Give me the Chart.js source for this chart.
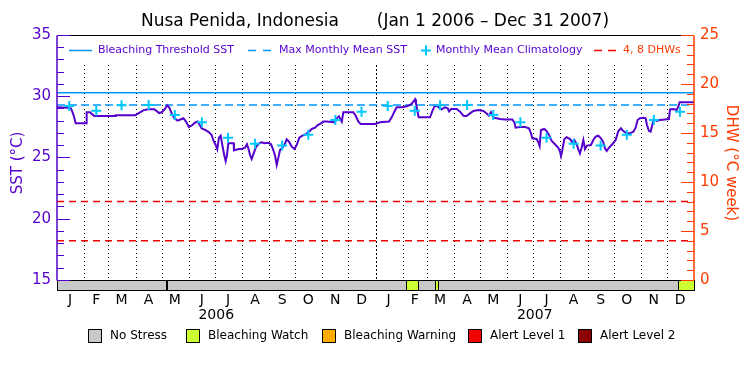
<!DOCTYPE html>
<html>
<head>
<meta charset="utf-8">
<script src="https://cdn.jsdelivr.net/npm/chart.js@4.4.0/dist/chart.umd.min.js"></script>
<style>
    html, body { margin: 0; background: #fff; }
</style>
</head>
<body>
<canvas id="sstChart" width="750" height="375"></canvas>
<script>
// days since Jan 1 2006 and daily SST (°C)
const sstDays = [0, 12, 16, 17.6, 19.5, 21.4, 34, 34, 37.8, 40.5, 42.8, 66.5, 67.2, 89.4, 91.3, 95.1, 98.9, 104.7, 111.5, 114.2,
    116.9, 120, 123, 126.4, 128.7, 131.4, 134.5, 138.3, 142.1, 144.8, 147.5, 151.3, 155.1, 158.1, 161.2, 163.1, 165.8, 170.4,
    174.2, 177.2, 179.5, 181.8, 183.7, 185.6, 187.6, 189.8, 191.8, 193.3, 194.8, 196.3, 202.5, 202.8, 207, 212.4, 215.5, 217.7,
    219.3, 221.2, 223.1, 225.4, 228.1, 231.5, 234.5, 237.6, 242.2, 245.3, 247.9, 249.9, 251.8, 253.7, 255.6, 258.3, 260.6,
    263.2, 265.9, 269, 272, 274.7, 277.7, 281.2, 285, 288.8, 291.9, 295.7, 298.8, 302.6, 305.2, 309.1, 318.6, 320.5, 323.2,
    326.3, 328.2, 339.6, 342.3, 345.4, 348, 364.5, 370.2, 380.5, 383.6, 386.6, 389.3, 395.8, 400.8, 405.7, 408.4, 410.3, 411.4,
    413, 414.5, 427.5, 430.2, 432.5, 435.1, 437.8, 440.9, 444.7, 447.7, 449.3, 451.6, 458, 461.9, 465.7, 469.5, 473.3, 477.2,
    482.9, 488.6, 492.4, 495, 497.3, 500, 503.8, 507.7, 513.4, 521.8, 524.1, 525.6, 530.6, 536.3, 540.9, 543.2, 544.7, 549.7,
    551.6, 553.1, 554.6, 558.5, 561.1, 563.8, 566.9, 570.7, 574.5, 576.4, 577.6, 579.1, 581.4, 584.1, 587.9, 590.5, 592.8,
    595.5, 597.4, 599.3, 601.2, 603.2, 605.1, 607.4, 611.9, 614.6, 617.3, 620.3, 623.4, 626.1, 628, 629.9, 632.6, 636.4,
    640.2, 643.3, 646.3, 649, 652.8, 656.6, 660.5, 663.1, 665.4, 668.1, 671.9, 674.6, 676.1, 678.4, 680.3, 682.2, 684.1,
    687.2, 691, 696.7, 701.3, 702.5, 706.3, 710.1, 712, 713.5, 730];
const sstValues = [29.10, 29.07, 29.01, 28.74, 28.33, 27.79, 27.79, 28.69, 28.69, 28.52, 28.39, 28.39, 28.44, 28.44, 28.52, 28.69,
    28.85, 28.93, 28.93, 28.80, 28.63, 28.69, 28.90, 29.26, 29.07, 28.60, 28.20, 28.01, 28.12, 28.20, 27.98, 27.49, 27.65,
    27.84, 27.93, 27.71, 27.38, 27.24, 27.05, 26.84, 26.35, 26.02, 25.67, 26.62, 26.78, 25.88, 25.15, 24.71, 25.20, 26.16,
    26.16, 25.58, 25.67, 25.72, 25.80, 26.08, 25.75, 25.20, 24.88, 25.34, 25.86, 26.16, 26.24, 26.16, 26.21, 26.08, 25.61,
    25.15, 24.39, 24.99, 25.61, 25.80, 26.02, 26.48, 26.29, 25.88, 25.69, 26.02, 26.62, 26.78, 26.89, 27.11, 27.33, 27.44,
    27.65, 27.79, 27.93, 27.93, 27.87, 28.20, 28.36, 27.93, 28.69, 28.69, 28.41, 27.93, 27.74, 27.74, 27.87, 27.93, 28.28,
    28.74, 29.10, 29.10, 29.18, 29.34, 29.56, 29.75, 29.42, 28.80, 28.28, 28.28, 28.80, 29.15, 29.23, 29.07, 28.93, 29.10,
    29.01, 28.77, 28.96, 28.96, 28.74, 28.41, 28.39, 28.60, 28.80, 28.88, 28.80, 28.60, 28.41, 28.69, 28.25, 28.20, 28.14,
    28.11, 28.11, 27.87, 27.43, 27.49, 27.49, 27.38, 26.97, 26.57, 26.51, 26.24, 25.94, 27.24, 27.33, 27.16, 26.84, 26.35,
    26.08, 25.80, 25.48, 25.12, 25.61, 26.51, 26.65, 26.51, 26.24, 26.43, 26.08, 25.69, 25.34, 25.80, 26.43, 25.69, 25.97,
    26.02, 26.43, 26.70, 26.78, 26.57, 26.24, 25.75, 25.53, 25.80, 26.08, 26.43, 27.16, 27.38, 27.16, 26.97, 26.97, 27.11,
    27.43, 28.06, 28.20, 28.25, 28.20, 27.65, 27.16, 27.11, 27.65, 28.14, 27.98, 28.06, 28.11, 28.14, 28.93, 28.96, 28.88,
    29.15, 29.50, 29.50];

// monthly mean climatology (+ markers)
const climDays = [14, 45, 74, 105, 135, 166, 196, 227, 258, 288, 319, 349,
    379, 410, 439, 470, 500, 531, 561, 592, 623, 653, 684, 714];
const climValues = [29.20, 28.82, 29.26, 29.29, 28.47, 27.87, 26.62, 26.13, 25.97, 26.86, 28.06, 28.74,
    29.20, 28.82, 29.26, 29.29, 28.47, 27.87, 26.62, 26.13, 25.97, 26.86, 28.06, 28.74];

const mmmSst = 29.28;
const thresholdSst = 30.28;
const dhwLevels = [4, 8];

// x axis labels
const monthMids = [15, 45, 74, 105, 135, 166, 196, 227, 258, 288, 319, 349,
    380, 410, 439, 470, 500, 531, 561, 592, 623, 653, 684, 714];
const monthLabels = ['J', 'F', 'M', 'A', 'M', 'J', 'J', 'A', 'S', 'O', 'N', 'D',
    'J', 'F', 'M', 'A', 'M', 'J', 'J', 'A', 'S', 'O', 'N', 'D'];
const monthStarts = [31, 59, 90, 120, 151, 181, 212, 243, 273, 304, 334, 365,
    396, 424, 455, 485, 516, 546, 577, 608, 638, 669, 699];
const yearMids = [182.5, 547.5];
const yearLabels = ['2006', '2007'];

// left and right axis ticks
const sstTicks = [15, 16, 17, 18, 19, 20, 21, 22, 23, 24, 25, 26, 27, 28, 29, 30, 31, 32, 33, 34, 35];
const dhwTicks = [0, 1, 2, 3, 4, 5, 6, 7, 8, 9, 10, 11, 12, 13, 14, 15, 16, 17, 18, 19, 20, 21, 22, 23, 24, 25];

// stress level bar (0 = no stress, 1 = bleaching watch)
const stressStart = [0, 126, 400, 414, 433, 437, 712];
const stressEnd = [126, 400, 414, 433, 437, 712, 730];
const stressLevel = [0, 0, 1, 0, 1, 0, 1];
const stressNames = ['No Stress', 'Bleaching Watch', 'Bleaching Warning', 'Alert Level 1', 'Alert Level 2'];
const stressColors = ['#c8c8c8', '#ccff33', '#ffaa00', '#ee0000', '#8b0000'];

const PURPLE = '#5500cc';
const BLUE = '#0096ff';
const CYAN = '#00c8ff';
const ORANGE = '#ff3c00';
const RED = '#ee0000';
const FONT = 'DejaVu Sans';

const flatLine = (y) => [{ x: 0, y: y }, { x: 730, y: y }];

const decorations = {
    id: 'decorations',
    beforeDatasetsDraw(chart) {
        const { ctx, scales } = chart;
        const xs = scales.x;
        const ys = scales.y;
        ctx.save();
        ctx.strokeStyle = '#000';
        ctx.lineWidth = 1;
        monthStarts.forEach((d) => {
            const x = Math.round(xs.getPixelForValue(d)) + 0.5;
            ctx.setLineDash(d === 365 ? [2, 2] : [1, 3]);
            ctx.beginPath();
            ctx.moveTo(x, ys.getPixelForValue(32.55));
            ctx.lineTo(x, ys.getPixelForValue(15));
            ctx.stroke();
        });
        ctx.restore();
    },
    afterDatasetsDraw(chart) {
        const { ctx, chartArea, scales } = chart;
        const xs = scales.x;
        const ys = scales.y;
        const y2 = scales.y2;
        const left = chartArea.left;
        const right = chartArea.right;
        const top = Math.round(chartArea.top) + 0.5;
        const base = Math.round(ys.getPixelForValue(15)) + 0.5;
        const bottom = Math.round(chartArea.bottom) - 0.5;

        ctx.save();
        // stress bar
        for (let i = 0; i < stressStart.length; i++) {
            const x0 = Math.round(xs.getPixelForValue(stressStart[i])) + 0.5;
            const x1 = Math.round(xs.getPixelForValue(stressEnd[i])) + 0.5;
            ctx.fillStyle = stressColors[stressLevel[i]];
            ctx.fillRect(x0, base, x1 - x0, bottom - base);
            ctx.strokeStyle = '#000';
            ctx.lineWidth = 1;
            ctx.strokeRect(x0, base, x1 - x0, bottom - base);
        }
        ctx.lineWidth = 2;
        ctx.beginPath();
        const gx = Math.round(xs.getPixelForValue(stressStart[1]));
        ctx.moveTo(gx, base);
        ctx.lineTo(gx, bottom);
        ctx.stroke();

        // frame
        ctx.lineWidth = 1;
        ctx.strokeStyle = '#000';
        ctx.beginPath();
        ctx.moveTo(left, top);
        ctx.lineTo(right, top);
        ctx.stroke();

        ctx.strokeStyle = PURPLE;
        ctx.lineWidth = 1.5;
        ctx.beginPath();
        ctx.moveTo(left, top);
        ctx.lineTo(left, base);
        ctx.stroke();
        ctx.lineWidth = 1;
        sstTicks.forEach((v) => {
            const y = Math.round(ys.getPixelForValue(v)) + 0.5;
            ctx.beginPath();
            ctx.moveTo(left, y);
            ctx.lineTo(left + (v % 5 === 0 ? 13 : 7), y);
            ctx.stroke();
        });

        ctx.strokeStyle = ORANGE;
        ctx.lineWidth = 1.5;
        ctx.beginPath();
        ctx.moveTo(right, top);
        ctx.lineTo(right, base);
        ctx.stroke();
        ctx.lineWidth = 1;
        dhwTicks.forEach((v) => {
            const y = Math.round(y2.getPixelForValue(v)) + 0.5;
            ctx.beginPath();
            ctx.moveTo(right, y);
            ctx.lineTo(right - (v % 5 === 0 ? 13 : 7), y);
            ctx.stroke();
        });

        // legend inside the plot
        const ly = 50.5;
        ctx.font = '11px "' + FONT + '"';
        ctx.textBaseline = 'middle';
        ctx.textAlign = 'left';
        ctx.lineWidth = 1.5;

        ctx.strokeStyle = BLUE;
        ctx.beginPath();
        ctx.moveTo(69, ly);
        ctx.lineTo(92, ly);
        ctx.stroke();
        ctx.fillStyle = PURPLE;
        ctx.fillText('Bleaching Threshold SST', 98, ly);

        ctx.setLineDash([8, 7]);
        ctx.beginPath();
        ctx.moveTo(248, ly);
        ctx.lineTo(272, ly);
        ctx.stroke();
        ctx.fillText('Max Monthly Mean SST', 279, ly);

        ctx.setLineDash([]);
        ctx.strokeStyle = CYAN;
        ctx.lineWidth = 2;
        ctx.beginPath();
        ctx.moveTo(421, ly);
        ctx.lineTo(431, ly);
        ctx.moveTo(426, ly - 5);
        ctx.lineTo(426, ly + 5);
        ctx.stroke();
        ctx.fillText('Monthly Mean Climatology', 436, ly);

        ctx.lineWidth = 1.5;
        ctx.strokeStyle = RED;
        ctx.setLineDash([8, 6]);
        ctx.beginPath();
        ctx.moveTo(594, ly);
        ctx.lineTo(616, ly);
        ctx.stroke();
        ctx.setLineDash([]);
        ctx.fillStyle = ORANGE;
        ctx.fillText('4, 8 DHWs', 623, ly);

        // stress legend under the chart
        const boxX = [88, 186, 322, 468, 578];
        ctx.font = '12px "' + FONT + '"';
        ctx.lineWidth = 1;
        ctx.strokeStyle = '#000';
        stressNames.forEach((name, i) => {
            ctx.fillStyle = stressColors[i];
            ctx.fillRect(boxX[i] + 0.5, 329.5, 13, 13);
            ctx.strokeRect(boxX[i] + 0.5, 329.5, 13, 13);
            ctx.fillStyle = '#000';
            ctx.fillText(name, boxX[i] + 22, 336);
        });
        ctx.restore();
    },
};

const ctx = document.getElementById('sstChart').getContext('2d');

new Chart(ctx, {
    type: 'line',
    data: {
        datasets: [
            {
                label: 'Monthly Mean Climatology',
                data: climDays.map((d, i) => ({ x: d, y: climValues[i] })),
                showLine: false,
                pointStyle: 'cross',
                pointRadius: 5,
                pointBorderWidth: 2,
                borderColor: CYAN,
                backgroundColor: CYAN,
                yAxisID: 'y',
            },
            {
                label: 'SST',
                data: sstDays.map((d, i) => ({ x: d, y: sstValues[i] })),
                borderColor: PURPLE,
                borderWidth: 2,
                pointRadius: 0,
                tension: 0,
                yAxisID: 'y',
            },
            {
                label: 'Bleaching Threshold SST',
                data: flatLine(thresholdSst),
                borderColor: BLUE,
                borderWidth: 1.5,
                pointRadius: 0,
                yAxisID: 'y',
            },
            {
                label: 'Max Monthly Mean SST',
                data: flatLine(mmmSst),
                borderColor: BLUE,
                borderWidth: 1.5,
                borderDash: [8, 4],
                pointRadius: 0,
                yAxisID: 'y',
            },
            ...dhwLevels.map((v) => ({
                label: v + ' DHW',
                data: flatLine(v),
                borderColor: RED,
                borderWidth: 1.5,
                borderDash: [7, 5],
                pointRadius: 0,
                yAxisID: 'y2',
            })),
        ],
    },
    options: {
        responsive: false,
        animation: false,
        events: [],
        layout: {
            padding: { top: 0, left: 0, right: 0, bottom: 52 },
        },
        plugins: {
            legend: { display: false },
            tooltip: { enabled: false },
            title: {
                display: true,
                text: 'Nusa Penida, Indonesia       (Jan 1 2006 \u2013 Dec 31 2007)',
                color: '#000',
                font: { family: FONT, size: 17, weight: 'normal' },
                padding: { top: 11, bottom: 3.6 },
            },
        },
        scales: {
            x: {
                type: 'linear',
                position: 'bottom',
                weight: 1,
                min: 0,
                max: 730,
                grid: { display: false, drawTicks: false },
                border: { display: false },
                afterBuildTicks: (scale) => {
                    scale.ticks = monthMids.map((v) => ({ value: v }));
                },
                afterFit: (scale) => {
                    scale.height = 16;
                },
                ticks: {
                    autoSkip: false,
                    maxRotation: 0,
                    padding: 1,
                    color: '#000',
                    font: { family: FONT, size: 14 },
                    callback: (value, index) => monthLabels[index],
                },
            },
            xYear: {
                type: 'linear',
                position: 'bottom',
                weight: 2,
                min: 0,
                max: 730,
                grid: { display: false, drawTicks: false },
                border: { display: false },
                afterBuildTicks: (scale) => {
                    scale.ticks = yearMids.map((v) => ({ value: v }));
                },
                afterFit: (scale) => {
                    scale.height = 16;
                },
                ticks: {
                    autoSkip: false,
                    maxRotation: 0,
                    padding: 0,
                    color: '#000',
                    font: { family: FONT, size: 14 },
                    callback: (value, index) => yearLabels[index],
                },
            },
            y: {
                type: 'linear',
                position: 'left',
                min: 14.102,
                max: 35,
                grid: { display: false, drawTicks: false },
                border: { display: false },
                afterBuildTicks: (scale) => {
                    scale.ticks = sstTicks.map((v) => ({ value: v }));
                },
                afterFit: (scale) => {
                    scale.width = 57;
                },
                ticks: {
                    autoSkip: false,
                    padding: 6,
                    color: PURPLE,
                    font: { family: FONT, size: 15 },
                    callback: (v) => (v % 5 === 0 ? String(v) : ''),
                },
                title: {
                    display: true,
                    text: 'SST (°C)',
                    color: PURPLE,
                    font: { family: FONT, size: 15 },
                    padding: { top: 9, bottom: 0 },
                },
            },
            y2: {
                type: 'linear',
                position: 'right',
                min: -1.1224,
                max: 25,
                grid: { display: false, drawTicks: false },
                border: { display: false },
                afterBuildTicks: (scale) => {
                    scale.ticks = dhwTicks.map((v) => ({ value: v }));
                },
                afterFit: (scale) => {
                    scale.width = 56;
                },
                ticks: {
                    autoSkip: false,
                    padding: 6,
                    color: ORANGE,
                    font: { family: FONT, size: 15 },
                    callback: (v) => (v % 5 === 0 ? String(v) : ''),
                },
                title: {
                    display: true,
                    text: 'DHW (°C week)',
                    color: ORANGE,
                    font: { family: FONT, size: 15 },
                    padding: { top: 10, bottom: 0 },
                },
            },
        },
    },
    plugins: [decorations],
});
</script>
</body>
</html>
